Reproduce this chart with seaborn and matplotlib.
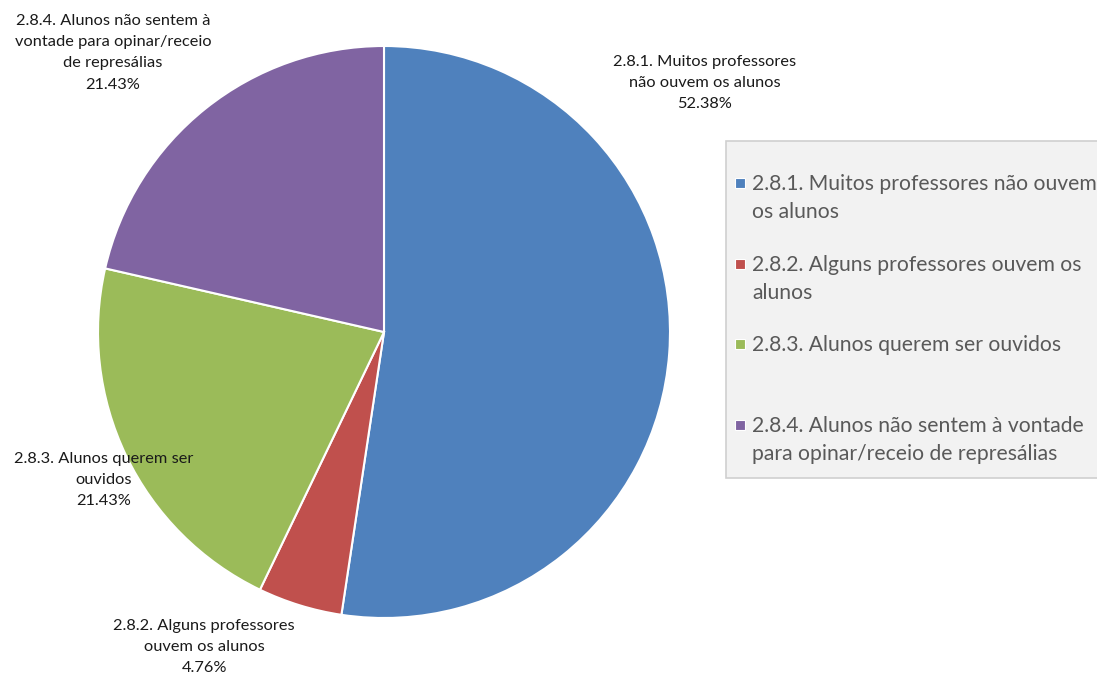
import matplotlib
matplotlib.use("Agg")
import matplotlib.pyplot as plt
from matplotlib.patches import Rectangle
import seaborn as sns

# --- Data ---
categories = [
    "2.8.1. Muitos professores não ouvem os alunos",
    "2.8.2. Alguns professores ouvem os alunos",
    "2.8.3. Alunos querem ser ouvidos",
    "2.8.4. Alunos não sentem à vontade para opinar/receio de represálias",
]
percentages = [52.38, 4.76, 21.43, 21.43]

# wrapped texts as they appear in the chart
slice_labels = [
    "2.8.1. Muitos professores\nnão ouvem os alunos",
    "2.8.2. Alguns professores\nouvem os alunos",
    "2.8.3. Alunos querem ser\nouvidos",
    "2.8.4. Alunos não sentem à\nvontade para opinar/receio\nde represálias",
]
legend_labels = [
    "2.8.1. Muitos professores não ouvem\nos alunos",
    "2.8.2. Alguns professores ouvem os\nalunos",
    "2.8.3. Alunos querem ser ouvidos",
    "2.8.4. Alunos não sentem à vontade\npara opinar/receio de represálias",
]

colors = ["#4F81BD", "#C0504D", "#9BBB59", "#8064A2"]
# label anchor positions (data units, pie radius = 1)
label_pos = [(1.122, 0.871), (-0.629, -1.101), (-0.979, -0.517), (-0.948, 0.976)]

sns.set_theme(style="white")
plt.rcParams["font.family"] = ["Lato", "DejaVu Sans"]

W, H = 1097, 675
fig = plt.figure(figsize=(W / 100, H / 100), dpi=100)
fig.patch.set_facecolor("white")

cx, cy, r = 384, 332, 286
ax = fig.add_axes([(cx - r) / W, (H - cy - r) / H, 2 * r / W, 2 * r / H])
ax.pie(percentages, colors=colors, startangle=90, counterclock=False,
       radius=1, wedgeprops=dict(edgecolor="white", linewidth=1.5))
ax.set_xlim(-1, 1)
ax.set_ylim(-1, 1)
ax.set_aspect("auto")
ax.axis("off")

for lab, pct, (x, y) in zip(slice_labels, percentages, label_pos):
    ax.text(x, y, f"{lab}\n{pct:.2f}%", ha="center", va="center",
            fontsize=11.8, color="#1a1a1a", linespacing=1.65, clip_on=False)

# --- Legend box (manual) ---
lx0, ly0, ly1 = 726, 141, 478
fig.patches.append(Rectangle((lx0 / W, 1 - ly1 / H), (W - lx0 + 10) / W, (ly1 - ly0) / H,
                             transform=fig.transFigure, facecolor="#f2f2f2",
                             edgecolor="#d0d0d0", linewidth=1.2))
first_line_y = 183
step = 80.7
for i, (lab, col) in enumerate(zip(legend_labels, colors)):
    yc = first_line_y + i * step
    fig.patches.append(Rectangle(((735) / W, 1 - (yc + 5) / H), 10 / W, 10 / H,
                                 transform=fig.transFigure, facecolor=col,
                                 edgecolor="white", linewidth=0.8))
    fig.text(752 / W, 1 - (yc - 9) / H, lab, ha="left", va="top",
             fontsize=15.2, color="#595959", linespacing=1.5)

fig.savefig("out.png", dpi=100)
